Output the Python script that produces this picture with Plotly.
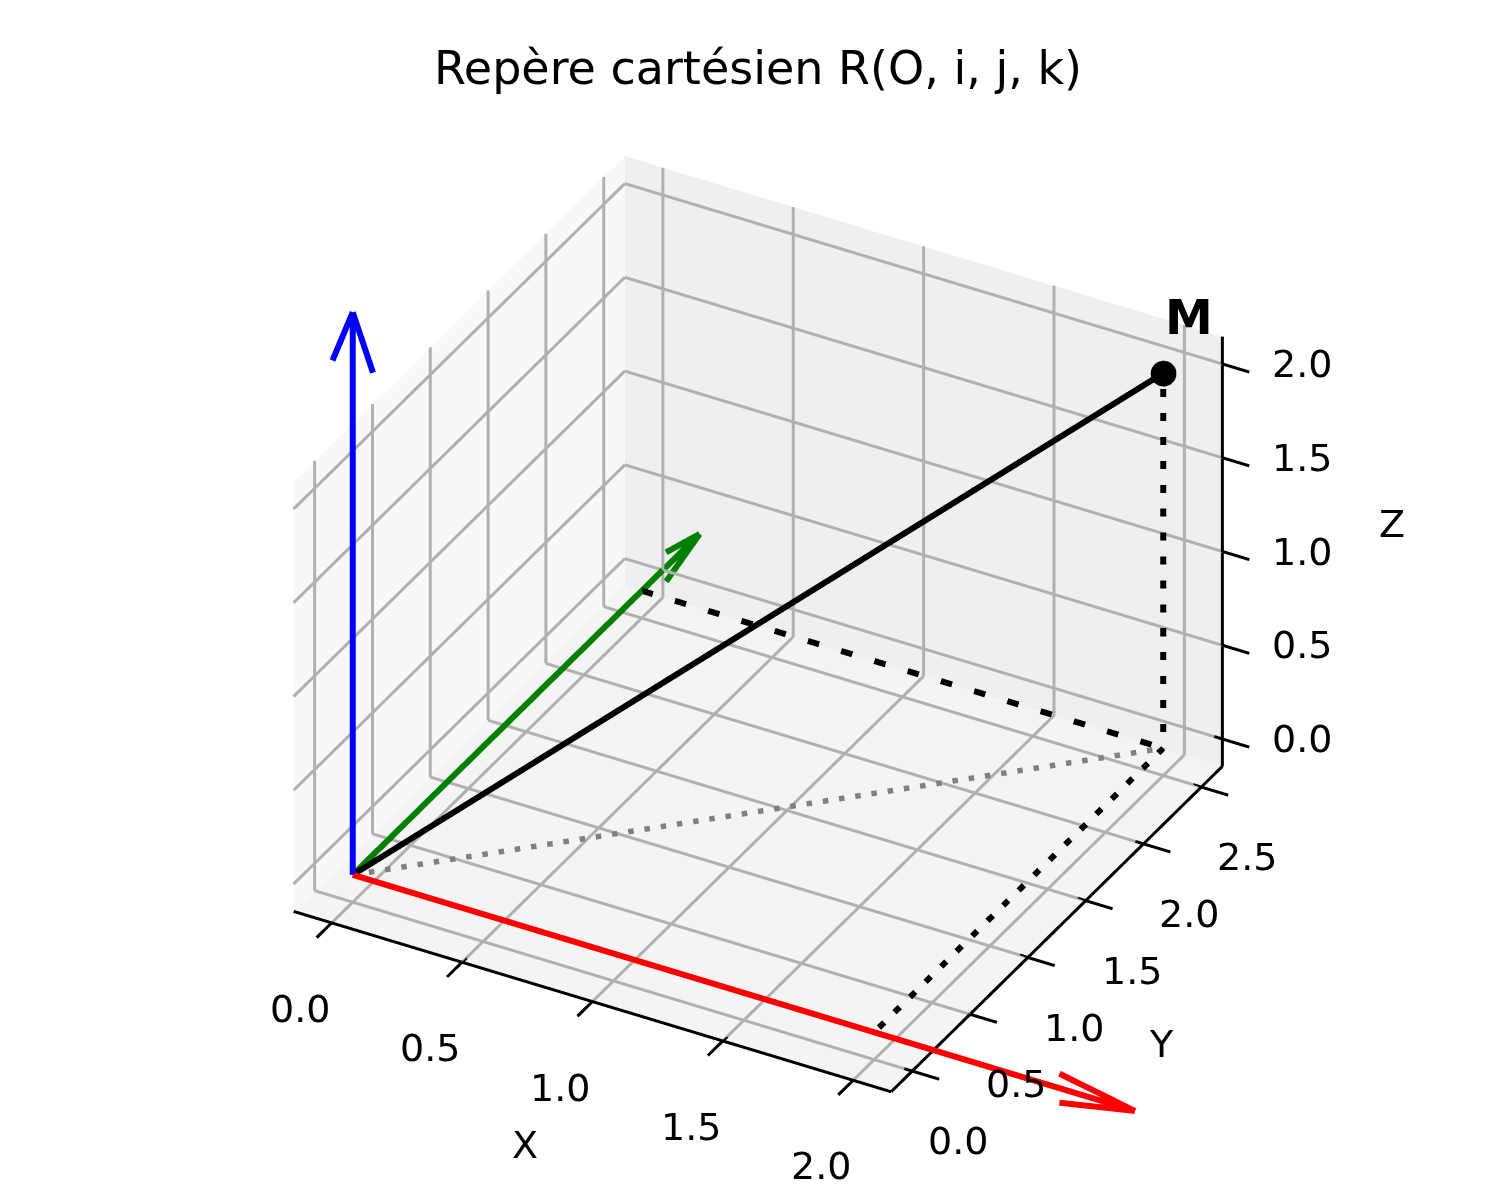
import numpy as np
import plotly.graph_objects as go

TITLE = "Repère cartésien R(O, i, j, k)"

# origine et point M
origin = [0.0, 0.0, 0.0]
point_m = [2.0, 2.5, 2.0]

# vecteurs de base i, j, k (quiver de longueur 3)
base_names = ["i", "j", "k"]
base_vectors = [[3.0, 0.0, 0.0], [0.0, 3.0, 0.0], [0.0, 0.0, 3.0]]
base_colors = ["red", "green", "blue"]

x_ticks = [0.0, 0.5, 1.0, 1.5, 2.0]
y_ticks = [0.0, 0.5, 1.0, 1.5, 2.0, 2.5]
z_ticks = [0.0, 0.5, 1.0, 1.5, 2.0]

FONT = "DejaVu Sans"
ZOOM = 1.22
ASPECT = ZOOM * np.array([1.0, 1.0, 0.75])
GRID = "#b0b0b0"
K_MAIN = 2.0   # scène des tracés, assez grande pour les flèches


def mpl_limits(lo, hi):
    # marge 5 % + petit rembourrage de l'axe 3D de matplotlib
    m = 0.05 * (hi - lo)
    lo, hi = lo - m, hi + m
    pad = (hi - lo) / 48
    return [lo - pad, hi + pad]


def arrow_heads(vec, ratio=0.1, angle=15):
    # mêmes têtes de flèche que Axes3D.quiver
    u = np.asarray(vec, dtype=float)
    n = np.linalg.norm(u[:2])
    xp, yp = (u[1] / n, -u[0] / n) if n else (0.0, 1.0)
    c, s = np.cos(np.radians(angle)), np.sin(np.radians(angle))
    rpos = np.array([[c + xp ** 2 * (1 - c), xp * yp * (1 - c), yp * s],
                     [xp * yp * (1 - c), c + yp ** 2 * (1 - c), -xp * s],
                     [-yp * s, xp * s, c]])
    rneg = rpos.copy()
    rneg[[0, 1, 2, 0, 1, 2], [1, 2, 0, 2, 0, 1]] *= -1
    tip = np.asarray(origin) + u
    return [tip - ratio * rpos @ u, tip - ratio * rneg @ u]


def polyline(segs, color, dash="solid", width=12, scene="scene2"):
    # plusieurs segments dans une seule trace, séparés par None
    xs, ys, zs = [], [], []
    for p, q in segs:
        xs += [p[0], q[0], None]
        ys += [p[1], q[1], None]
        zs += [p[2], q[2], None]
    return go.Scatter3d(x=xs, y=ys, z=zs, mode="lines", connectgaps=False,
                        line=dict(color=color, width=width, dash=dash), scene=scene,
                        hoverinfo="skip", showlegend=False)


mx, my, mz = point_m
proj_xy = [mx, my, 0.0]

data_x = [origin[0], mx]
data_y = [origin[1], my]
data_z = [origin[2], mz]
rng1 = np.array([mpl_limits(min(data_x), max(data_x)),
                 mpl_limits(min(data_y), max(data_y)),
                 mpl_limits(min(data_z), max(data_z))])
(x_lo, x_hi), (y_lo, y_hi), (z_lo, z_hi) = rng1

# grille sur les trois panneaux du fond
grid = []
for xt in x_ticks:
    grid += [([xt, y_lo, z_lo], [xt, y_hi, z_lo]), ([xt, y_hi, z_lo], [xt, y_hi, z_hi])]
for yt in y_ticks:
    grid += [([x_lo, yt, z_lo], [x_hi, yt, z_lo]), ([x_lo, yt, z_lo], [x_lo, yt, z_hi])]
for zt in z_ticks:
    grid += [([x_lo, y_lo, zt], [x_lo, y_hi, zt]), ([x_lo, y_hi, zt], [x_hi, y_hi, zt])]

# axes et graduations comme matplotlib
tl_x = 0.045 * (x_hi - x_lo)
tl_y = 0.045 * (y_hi - y_lo)
axes_segs = [([x_lo, y_lo, z_lo], [x_hi, y_lo, z_lo]),
             ([x_hi, y_lo, z_lo], [x_hi, y_hi, z_lo]),
             ([x_hi, y_hi, z_lo], [x_hi, y_hi, z_hi])]
for xt in x_ticks:
    axes_segs.append(([xt, y_lo + 0.3 * tl_y, z_lo], [xt, y_lo - tl_y, z_lo]))
for yt in y_ticks:
    axes_segs.append(([x_hi - 0.3 * tl_x, yt, z_lo], [x_hi + tl_x, yt, z_lo]))
for zt in z_ticks:
    axes_segs.append(([x_hi - 0.3 * tl_x, y_hi, zt], [x_hi + tl_x, y_hi, zt]))

# trace invisible : la scène des panneaux n'est dessinée que si elle porte une trace
traces = [go.Scatter3d(x=[origin[0]], y=[origin[1]], z=[origin[2]], mode="markers",
                       marker=dict(opacity=0, size=1), scene="scene",
                       hoverinfo="skip", showlegend=False)]
traces += [
    polyline(grid, GRID, width=6),
    polyline(axes_segs, "black", width=6),
    polyline([(origin, proj_xy)], "gray", "dash", width=11),
    polyline([(origin, point_m)], "black"),
    # les trois pointillés dans une seule trace : plotly répartit le motif sur la longueur totale
    polyline([([0.0, my, 0.0], proj_xy), ([mx, 0.0, 0.0], proj_xy), (proj_xy, point_m)],
             "black", "dash"),
]
traces.append(go.Scatter3d(x=[mx], y=[my], z=[mz], mode="markers", scene="scene2",
                           marker=dict(color="black", size=15),
                           hoverinfo="skip", showlegend=False))

for name, vec, col in zip(base_names, base_vectors, base_colors):
    tip = np.asarray(origin) + np.asarray(vec)
    traces.append(polyline([(origin, tip)] + [(tip, h) for h in arrow_heads(vec)], col))

fig = go.Figure(data=traces)

elev, azim, dist = np.radians(33), np.radians(-61), 3.0
eye = dist * np.array([np.cos(elev) * np.cos(azim), np.cos(elev) * np.sin(azim), np.sin(elev)])
camera = dict(eye=dict(x=eye[0], y=eye[1], z=eye[2]), center=dict(x=0, y=0, z=0),
              up=dict(x=0, y=0, z=1), projection=dict(type="orthographic"))
domain = dict(x=[0, 1], y=[0.02, 0.953])


def overlay_scene(k, **extra):
    # même centre que la boîte, étendue et rapport d'aspect multipliés par k :
    # la projection est identique mais rien n'est coupé au bord de la boîte
    mid = rng1.mean(axis=1)
    half = k * (rng1[:, 1] - rng1[:, 0]) / 2
    asp = ASPECT * k
    axes = {f"{a}axis": dict(range=[mid[i] - half[i], mid[i] + half[i]], visible=False, showspikes=False)
            for i, a in enumerate("xyz")}
    return dict(domain=domain, bgcolor="rgba(0,0,0,0)", camera=camera,
                aspectmode="manual", aspectratio=dict(x=asp[0], y=asp[1], z=asp[2]), **axes, **extra)


def label(x, y, z, text, dx, dy, size=38, bold=False):
    return dict(x=x, y=y, z=z, text=f"<b>{text}</b>" if bold else text, showarrow=False,
                xshift=dx, yshift=dy, font=dict(family=FONT, size=size, color="black"))


annotations = [label(xt, y_lo, z_lo, f"{xt:.1f}", -32, -86) for xt in x_ticks]
annotations += [label(x_hi, yt, z_lo, f"{yt:.1f}", 46, -70) for yt in y_ticks]
annotations += [label(x_hi, y_hi, zt, f"{zt:.1f}", 80, 0) for zt in z_ticks]
annotations += [
    label(np.mean(rng1[0]), y_lo, z_lo, "X", -67, -143),
    label(x_hi, np.mean(rng1[1]), z_lo, "Y", 105, -115),
    label(x_hi, y_hi, np.mean(rng1[2]), "Z", 170, 28),
    label(mx, my, mz, "M", 26, 56, size=48, bold=True),
]


def pane(rng, bg):
    return dict(range=list(rng), showbackground=True, backgroundcolor=bg,
                showgrid=False, zeroline=False, showline=False, ticks="",
                showticklabels=False, title=dict(text=""), showspikes=False)


fig.update_layout(
    width=1500, height=1200,
    margin=dict(l=0, r=0, t=0, b=0),
    paper_bgcolor="white",
    font=dict(family=FONT, color="black"),
    title=dict(text=TITLE, x=0.5, xanchor="center", y=1 - 60 / 1200, yanchor="middle",
               font=dict(family=FONT, size=46, color="black")),
    scene=dict(
        domain=domain,
        xaxis=pane(rng1[0], "#f8f8f8"),
        yaxis=pane(rng1[1], "#efefef"),
        zaxis=pane(rng1[2], "#f4f4f4"),
        aspectmode="manual", aspectratio=dict(x=ASPECT[0], y=ASPECT[1], z=ASPECT[2]),
        camera=camera,
    ),
    scene2=overlay_scene(K_MAIN, annotations=annotations),
)

fig.write_html("out.html")
